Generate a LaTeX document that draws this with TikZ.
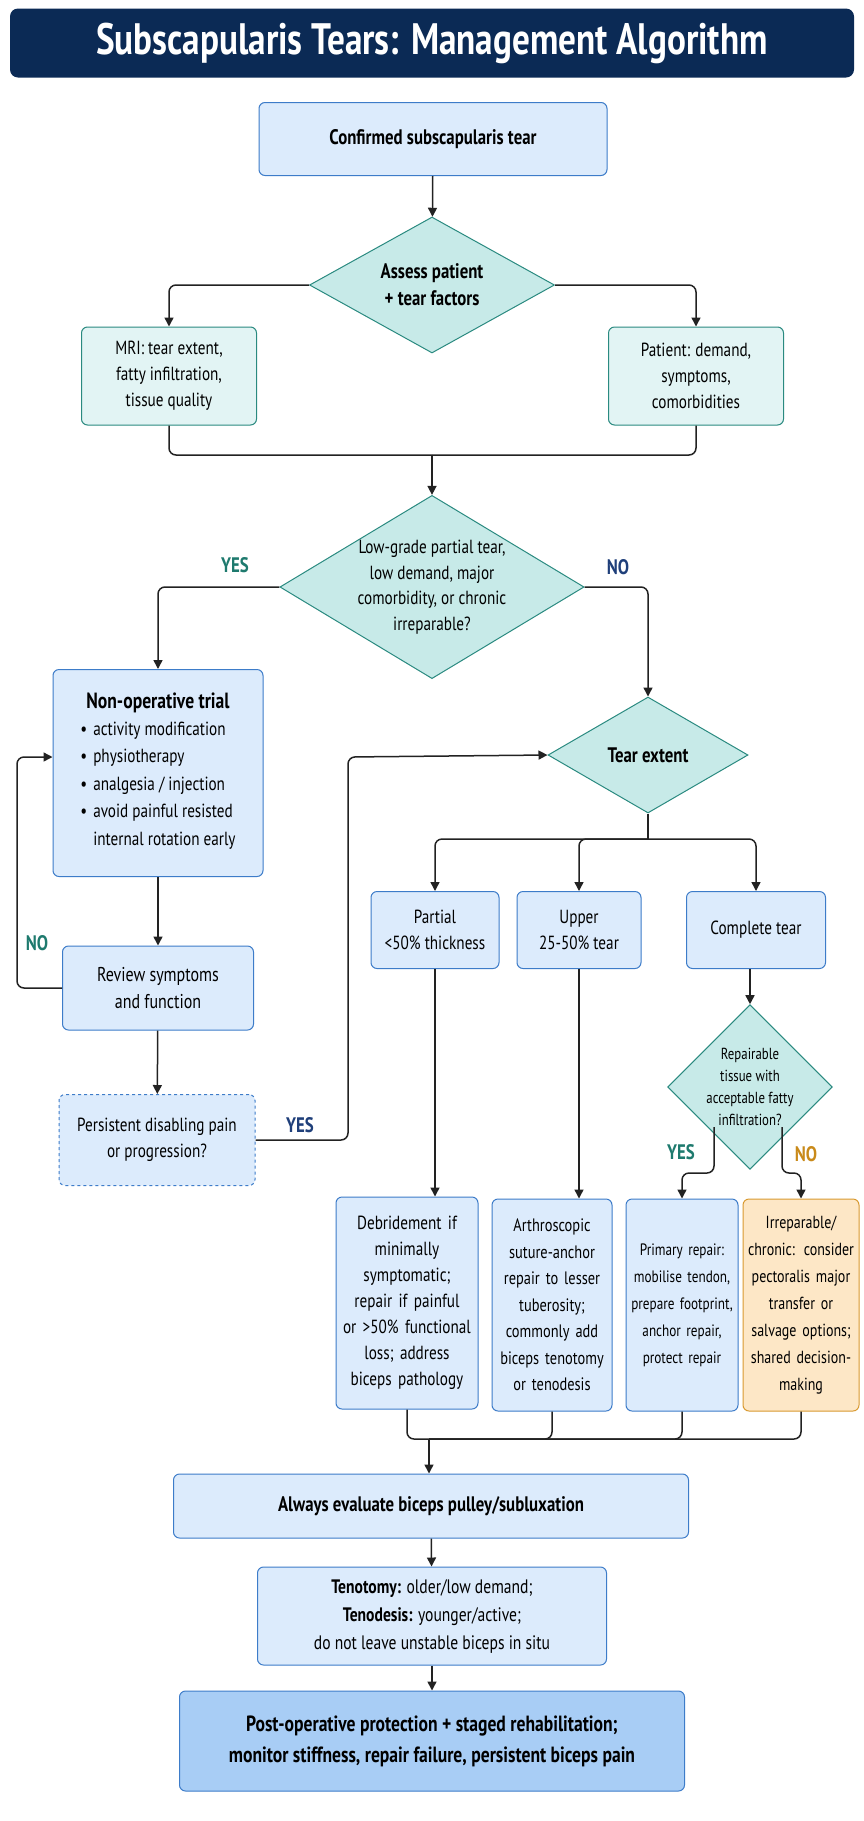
\documentclass[tikz,border=0pt]{standalone}
\usepackage{fontspec}
\setmainfont[FakeStretch=0.8]{PT Sans}
\usetikzlibrary{shapes.geometric,arrows.meta}
\definecolor{navy}{HTML}{0B2A55}
\definecolor{bfill}{HTML}{DCEBFC}
\definecolor{bdraw}{HTML}{3D7CC9}
\definecolor{tfill}{HTML}{E2F4F4}
\definecolor{tdraw}{HTML}{2A8A80}
\definecolor{dfill}{HTML}{C7EAE8}
\definecolor{ofill}{HTML}{FDE7C6}
\definecolor{odraw}{HTML}{D99A30}
\definecolor{pfill}{HTML}{A8CDF5}
\definecolor{yesc}{HTML}{1E7A6E}
\definecolor{noc}{HTML}{1F3F7A}
\definecolor{orc}{HTML}{C98A1A}
\definecolor{linec}{HTML}{222222}
\tikzset{
 bbox/.style={draw=bdraw,fill=bfill,rounded corners=6pt,line width=1pt,align=center,inner sep=3pt,font=\fontsize{19}{26}\selectfont},
 tbox/.style={bbox,draw=tdraw,fill=tfill},
 dia/.style={diamond,draw=tdraw,fill=dfill,line width=1pt,align=center,inner sep=0pt,font=\fontsize{19}{25.5}\selectfont},
 conn/.style={draw=linec,line width=1.5pt,rounded corners=7pt,-{Triangle[length=9pt,width=9pt]}},
 plain/.style={draw=linec,line width=1.5pt,rounded corners=7pt},
 lab/.style={font=\fontsize{21}{24}\selectfont\bfseries},
}
\begin{document}
\begin{tikzpicture}[x=1pt,y=-1pt]
\path[use as bounding box,fill=white] (0,0) rectangle (864,1821);
\node[fill=navy,rounded corners=8pt,minimum width=844pt,minimum height=69pt,text=white,font=\fontsize{44}{46}\selectfont\bfseries] (title) at (432,43) {Subscapularis Tears: Management Algorithm};
\node[bbox,minimum width=348pt,minimum height=73pt,font=\fontsize{21}{26}\selectfont\bfseries] (conf) at (433,139) {Confirmed subscapularis tear};
\node[dia,minimum width=245pt,minimum height=136pt,aspect=1.8,font=\fontsize{21}{27}\selectfont\bfseries] (assess) at (432,285) {Assess patient\\+ tear factors};
\node[tbox,minimum width=175pt,minimum height=98pt] (mri) at (169,376) {MRI: tear extent,\\fatty infiltration,\\tissue quality};
\node[tbox,minimum width=175pt,minimum height=98pt] (pat) at (696,376) {Patient: demand,\\symptoms,\\comorbidities};
\node[dia,minimum width=301pt,minimum height=181pt,aspect=1.66] (low) at (432,587) {Low-grade partial tear,\\low demand, major\\comorbidity, or chronic\\irreparable?};
\node[bbox,minimum width=210pt,minimum height=207pt,font=\fontsize{19}{27.5}\selectfont] (nonop) at (158,773) {{\fontsize{22}{30}\selectfont\bfseries Non-operative trial}\\[2pt]
\begin{tabular}{@{}l@{\hspace{6pt}}l@{}}
\textbullet & activity modification\\
\textbullet & physiotherapy\\
\textbullet & analgesia / injection\\
\textbullet & avoid painful resisted\\
 & internal rotation early
\end{tabular}};
\node[bbox,minimum width=191pt,minimum height=84pt,font=\fontsize{20}{27}\selectfont] (rev) at (158,988) {Review symptoms\\and function};
\node[bbox,dashed,minimum width=196pt,minimum height=91pt] (pers) at (157,1140) {Persistent disabling pain\\or progression?};
\node[dia,minimum width=200pt,minimum height=116pt,aspect=1.7,font=\fontsize{21}{25}\selectfont\bfseries] (ext) at (648,755) {Tear extent};
\node[bbox,minimum width=128pt,minimum height=77pt] (part) at (435,930) {Partial\\<50\% thickness};
\node[bbox,minimum width=124pt,minimum height=77pt] (upp) at (579,930) {Upper\\25-50\% tear};
\node[bbox,minimum width=139pt,minimum height=77pt] (comp) at (756,930) {Complete tear};
\node[dia,minimum width=153pt,minimum height=158pt,aspect=1,font=\fontsize{16}{22}\selectfont] (rep) at (750,1087) {Repairable\\tissue with\\acceptable fatty\\infiltration?};
\node[bbox,minimum width=142pt,minimum height=212pt,text width=136pt] (deb) at (407,1303) {Debridement if\\minimally\\symptomatic;\\repair if painful\\or >50\% functional\\loss; address\\biceps pathology};
\node[bbox,minimum width=118pt,minimum height=212pt,text width=114pt,font=\fontsize{18}{26.5}\selectfont] (arth) at (552,1305) {Arthroscopic\\suture-anchor\\repair to lesser\\tuberosity;\\commonly add\\biceps tenotomy\\or tenodesis};
\node[bbox,minimum width=110pt,minimum height=212pt,text width=106pt,font=\fontsize{16.5}{27}\selectfont] (prim) at (682,1305) {Primary repair:\\mobilise tendon,\\prepare footprint,\\anchor repair,\\protect repair};
\node[bbox,draw=odraw,fill=ofill,minimum width=113pt,minimum height=212pt,text width=110pt,font=\fontsize{17.5}{27}\selectfont] (irr) at (801,1305) {Irreparable/\\chronic: consider\\pectoralis major\\transfer or\\salvage options;\\shared decision-\\making};
\node[bbox,minimum width=515pt,minimum height=64pt,font=\fontsize{21}{26}\selectfont\bfseries] (alw) at (431,1506) {Always evaluate biceps pulley/subluxation};
\node[bbox,minimum width=349pt,minimum height=98pt,font=\fontsize{19.5}{28}\selectfont] (teno) at (432,1616) {\textbf{Tenotomy:} older/low demand;\\\textbf{Tenodesis:} younger/active;\\do not leave unstable biceps in situ};
\node[bbox,fill=pfill,minimum width=505pt,minimum height=100pt,font=\fontsize{22}{31}\selectfont\bfseries] (post) at (432,1741) {Post-operative protection + staged rehabilitation;\\monitor stiffness, repair failure, persistent biceps pain};
% connectors
\draw[conn] (conf) -- (assess);
\draw[conn] (assess.west) -| (mri.north);
\draw[conn] (assess.east) -| (pat.north);
\coordinate (m1) at (432,455);
\draw[plain] (mri.south) |- (m1);
\draw[plain] (pat.south) |- (m1);
\draw[conn] (m1) -- (low.north);
\draw[conn] (low.west) -| (nonop.north);
\draw[conn] (low.east) -| (ext.north);
\node[lab,text=yesc] at (235,565) {YES};
\node[lab,text=noc] at (618,567) {NO};
\draw[conn] (nonop) -- (rev);
\draw[conn] (rev) -- (pers);
\coordinate (lp) at (17,757);
\draw[conn] (rev.west) -| (lp) -- (nonop.west |- lp);
\node[lab,text=yesc] at (37,943) {NO};
\coordinate (yp) at (348,757);
\draw[conn] (pers.east) -| (yp) -- (ext.west);
\node[lab,text=noc] at (300,1125) {YES};
\coordinate (b1) at (648,839);
\draw[plain] (ext.south) -- (b1);
\draw[conn] (b1) -| (part.north);
\draw[conn] (b1) -| (upp.north);
\draw[conn] (b1) -| (comp.north);
\draw[conn] (comp.south -| rep.north) -- (rep.north);
\draw[conn] (part.south) -- (part.south |- deb.north);
\draw[conn] (upp.south) -- (upp.south |- arth.north);
\coordinate (ys) at (714,1127);
\coordinate (ns) at (782,1127);
\draw[conn] (ys) -- (714,1173) -| (prim.north);
\draw[conn] (ns) -- (782,1173) -| (irr.north);
\node[lab,text=yesc] at (681,1152) {YES};
\node[lab,text=orc] at (806,1154) {NO};
\coordinate (m2) at (429,1439);
\draw[plain] (deb.south) |- (m2);
\draw[plain] (arth.south) |- (m2);
\draw[plain] (prim.south) |- (m2);
\draw[plain] (irr.south) |- (m2);
\draw[conn] (m2) -- (m2 |- alw.north);
\draw[conn] (alw) -- (teno);
\draw[conn] (teno) -- (post);
\end{tikzpicture}
\end{document}
